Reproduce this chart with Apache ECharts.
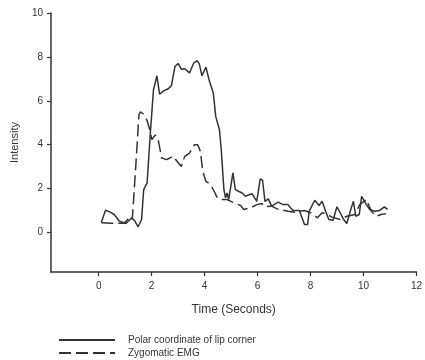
<!DOCTYPE html>
<html>
<head>
<meta charset="utf-8">
<script src="https://cdn.jsdelivr.net/npm/echarts@6/dist/echarts.min.js"></script>
<style>
  html, body { margin: 0; padding: 0; background: #fff; }
  #chart { width: 425px; height: 360px; }
</style>
</head>
<body>
<div id="chart"></div>
<script>
// Polar coordinate of lip corner (solid)
const polarTime = [0.1, 0.26, 0.4, 0.59, 0.78, 1.03, 1.25, 1.35, 1.49, 1.62, 1.7, 1.83, 1.95, 2.07, 2.2, 2.3, 2.45, 2.63, 2.75, 2.88, 3.0, 3.12, 3.25, 3.43, 3.59, 3.72, 3.8, 3.9, 4.05, 4.17, 4.33, 4.42, 4.56, 4.63, 4.73, 4.79, 4.85, 4.91, 5.07, 5.16, 5.28, 5.42, 5.54, 5.79, 5.97, 6.1, 6.19, 6.28, 6.41, 6.53, 6.78, 6.96, 7.15, 7.33, 7.58, 7.77, 7.89, 7.95, 8.16, 8.32, 8.44, 8.57, 8.69, 8.85, 9.0, 9.12, 9.25, 9.37, 9.52, 9.62, 9.71, 9.84, 9.93, 10.0, 10.11, 10.23, 10.42, 10.6, 10.79, 10.91];
const polarValues = [0.47, 1.01, 0.95, 0.82, 0.51, 0.41, 0.67, 0.55, 0.26, 0.59, 1.95, 2.26, 4.5, 6.5, 7.14, 6.3, 6.45, 6.55, 6.7, 7.56, 7.7, 7.44, 7.46, 7.27, 7.72, 7.83, 7.68, 7.14, 7.54, 6.95, 6.35, 5.29, 4.68, 3.77, 1.95, 1.58, 1.8, 1.5, 2.72, 1.95, 1.88, 1.8, 1.65, 1.77, 1.42, 2.44, 2.38, 1.42, 1.53, 1.2, 1.38, 1.27, 1.27, 1.0, 1.0, 0.36, 0.36, 0.97, 1.47, 1.23, 1.42, 0.97, 0.59, 0.56, 1.17, 0.9, 0.59, 0.41, 1.05, 1.42, 0.74, 0.82, 1.65, 1.73, 1.27, 1.05, 0.97, 1.0, 1.17, 1.05];

// Zygomatic EMG (dashed)
const emgTime = [0.1, 0.5, 0.96, 1.03, 1.21, 1.27, 1.4, 1.52, 1.58, 1.7, 1.83, 1.93, 2.01, 2.14, 2.26, 2.38, 2.57, 2.81, 3.12, 3.25, 3.43, 3.62, 3.74, 3.84, 3.93, 4.05, 4.23, 4.36, 4.48, 4.67, 4.85, 5.11, 5.36, 5.48, 5.73, 5.97, 6.16, 6.28, 6.53, 6.78, 7.15, 7.4, 7.77, 8.01, 8.26, 8.44, 8.63, 8.81, 9.12, 9.37, 9.68, 9.86, 10.11, 10.3, 10.48, 10.67, 10.85];
const emgValues = [0.44, 0.42, 0.42, 0.35, 0.74, 0.6, 3.0, 5.36, 5.5, 5.38, 5.1, 4.68, 4.23, 4.45, 4.15, 3.39, 3.32, 3.47, 3.01, 3.47, 3.62, 4.0, 4.0, 3.7, 2.79, 2.33, 2.18, 1.88, 1.58, 1.5, 1.5, 1.35, 1.23, 1.05, 1.12, 1.27, 1.32, 1.17, 1.2, 1.05, 0.97, 0.92, 1.0, 0.9, 0.67, 0.9, 0.82, 0.7, 0.59, 0.74, 0.82, 1.27, 1.5, 0.97, 0.74, 0.82, 0.86];

const xTicks = [0, 2, 4, 6, 8, 10, 12];
const yTicks = [0, 2, 4, 6, 8, 10];
const seriesNames = ["Polar coordinate of lip corner", "Zygomatic EMG"];

const INK = "#333";
const FONT = "Liberation Sans";

function pairs(xs, ys) {
  return xs.map((x, i) => [x, ys[i]]);
}

function axisBase(ticks) {
  return {
    type: "value",
    min: -1.8,
    splitLine: { show: false },
    axisLine: { onZero: false, lineStyle: { color: INK, width: 1.5 } },
    axisTick: { customValues: ticks, length: 4, lineStyle: { color: INK, width: 1.2 } },
    axisLabel: { customValues: ticks, color: INK, fontSize: 10, fontFamily: FONT },
    nameLocation: "middle",
    nameTextStyle: { color: INK, fontFamily: FONT },
  };
}

const chart = echarts.init(document.getElementById("chart"), null, { renderer: "canvas" });

const xAxis = axisBase(xTicks);
xAxis.max = 12;
xAxis.name = "Time (Seconds)";
xAxis.nameGap = 32;
xAxis.nameTextStyle.fontSize = 12;
xAxis.axisLabel.margin = 9;

const yAxis = axisBase(yTicks);
yAxis.max = 10;
yAxis.name = "Intensity";
yAxis.nameGap = 31;
yAxis.nameTextStyle.fontSize = 11;
yAxis.axisLabel.margin = 8;

chart.setOption({
  animation: false,
  backgroundColor: "#fff",
  grid: { left: 51, right: 3, top: 13, bottom: 88, containLabel: false },
  xAxis: xAxis,
  yAxis: yAxis,
  legend: {
    orient: "vertical",
    left: 58,
    top: 335,
    padding: 0,
    itemWidth: 56,
    itemHeight: 10,
    itemGap: 3,
    itemStyle: { opacity: 0 },
    textStyle: { color: INK, fontSize: 10, fontFamily: FONT, padding: [0, 0, 0, 8] },
    data: seriesNames,
  },
  series: [
    {
      name: seriesNames[0],
      type: "line",
      showSymbol: false,
      symbol: "none",
      lineStyle: { color: INK, width: 1.5 },
      itemStyle: { color: INK },
      data: pairs(polarTime, polarValues),
    },
    {
      name: seriesNames[1],
      type: "line",
      showSymbol: false,
      symbol: "none",
      lineStyle: { color: INK, width: 1.5, type: [12, 5] },
      itemStyle: { color: INK },
      data: pairs(emgTime, emgValues),
    },
  ],
});
</script>
</body>
</html>
